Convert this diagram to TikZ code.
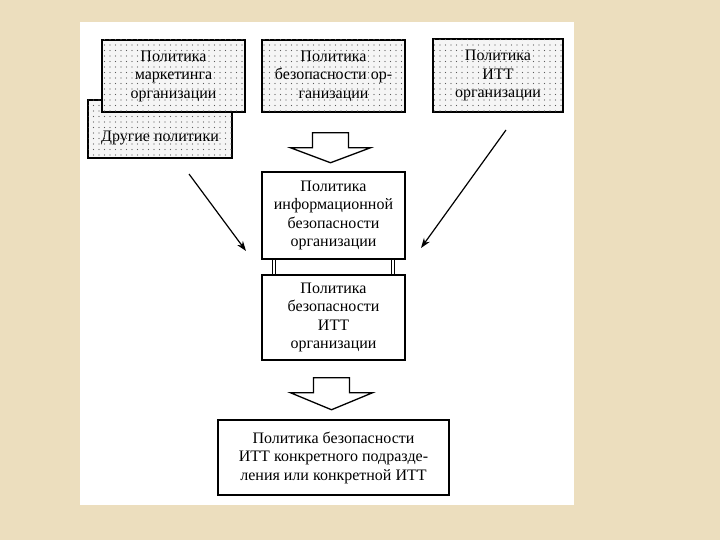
\documentclass[tikz,border=0pt]{standalone}
\usepackage{fontspec}
\setmainfont{Liberation Serif}
\usetikzlibrary{arrows.meta,calc,patterns.meta}
\definecolor{bgbeige}{RGB}{236,222,190}
\tikzdeclarepattern{
  name=sparsedots,
  type=uncolored,
  bounding box={(-2.75pt,-2.75pt) and (2.75pt,2.75pt)},
  tile size={(5.5pt,5.5pt)},
  code={\pgfpathcircle{\pgfpointorigin}{0.65pt}\pgfusepath{fill}}
}
\tikzset{
  box/.style={draw, line width=1.5pt, inner sep=0pt, align=center,
    font=\fontsize{16}{18.5}\selectfont, fill=white},
  dotbox/.style={box, fill=black!4, postaction={pattern=sparsedots, pattern color=black!65}},
  thinarrow/.style={line width=1.2pt, -{Stealth[length=10pt,width=7pt]}},
  blockarrow/.style={draw, line width=1.3pt, fill=white, line join=miter},
  link/.style={double, double distance=2pt, line width=1.1pt}
}
\begin{document}
\begin{tikzpicture}[x=1pt,y=-1pt]
\useasboundingbox (0,0) rectangle (720,540);
\fill[bgbeige] (0,0) rectangle (720,540);
\fill[white] (80,22) rectangle (574,505);

% top row
\node[dotbox, minimum width=144pt, minimum height=58pt, text height=28pt, text depth=3pt] (other) at (160,129) {Другие политики};
\node[dotbox, minimum width=143pt, minimum height=72pt] (mark) at (173.5,76) {Политика\\маркетинга\\организации};
\node[dotbox, minimum width=143pt, minimum height=72pt] (orgsec) at (333.5,76) {Политика\\безопасности ор-\\ганизации};
\node[dotbox, minimum width=130pt, minimum height=73pt] (itt) at (498,75.5) {Политика\\ИТТ\\организации};

% middle
\node[box, minimum width=143pt, minimum height=87pt] (info) at (333.5,215.5) {Политика\\информационной\\безопасности\\организации};
\node[box, minimum width=143pt, minimum height=85pt] (ittsec) at (333.5,317.5) {Политика\\безопасности\\ИТТ\\организации};

% bottom
\node[box, minimum width=231pt, minimum height=75pt] (unit) at (333.5,457.5) {Политика безопасности\\ИТТ конкретного подразде-\\ления или конкретной ИТТ};

% links between info and ittsec
\draw[link] ($(info.south west)+(13,0)$) -- ($(ittsec.north west)+(13,0)$);
\draw[link] ($(info.south east)+(-13,0)$) -- ($(ittsec.north east)+(-13,0)$);

% block arrow 1
\coordinate (a1) at ($(orgsec.south)+(-3,20)$);
\draw[blockarrow] ($(a1)+(-18,0)$) -- ($(a1)+(18,0)$) -- ($(a1)+(18,15)$) -- ($(a1)+(40,15)$)
  -- ($(a1)+(0,30)$) -- ($(a1)+(-40,15)$) -- ($(a1)+(-18,15)$) -- cycle;

% block arrow 2
\coordinate (a2) at ($(ittsec.south)+(-2,17)$);
\draw[blockarrow] ($(a2)+(-18,0)$) -- ($(a2)+(18,0)$) -- ($(a2)+(18,15)$) -- ($(a2)+(41,15)$)
  -- ($(a2)+(0,32)$) -- ($(a2)+(-41,15)$) -- ($(a2)+(-18,15)$) -- cycle;

% diagonal arrows
\coordinate (ls) at (189,174);
\coordinate (le) at (246,251);
\coordinate (rs) at (506,130);
\coordinate (re) at (421,248);
\draw[thinarrow] (ls) -- (le);
\draw[thinarrow] (rs) -- (re);
\end{tikzpicture}
\end{document}
